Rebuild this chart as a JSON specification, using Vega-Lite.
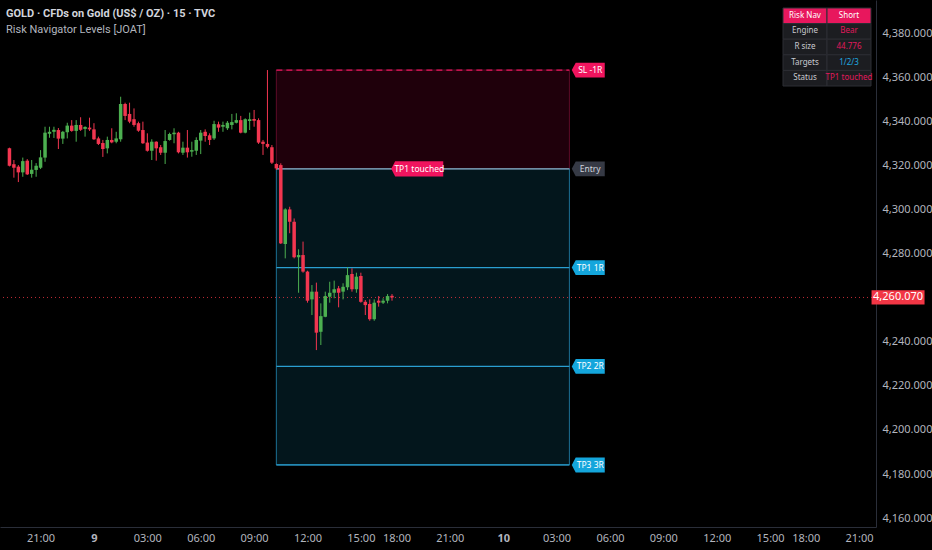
{
  "$schema": "https://vega.github.io/schema/vega-lite/v6.json",
  "width": 876,
  "height": 527,
  "autosize": {"type": "none"},
  "padding": {"left": 0, "top": 0, "right": 56, "bottom": 23},
  "background": "#000000",
  "config": {"view": {"stroke": null}, "font": "Noto Sans"},
  "title": {
    "text": "GOLD · CFDs on Gold (US$ / OZ) · 15 · TVC",
    "subtitle": "Risk Navigator Levels [JOAT]",
    "anchor": "start",
    "frame": "group",
    "dx": 6,
    "dy": 39,
    "font": "Roboto",
    "subtitleFont": "Roboto",
    "fontSize": 11,
    "fontWeight": "bold",
    "color": "#d1d4dc",
    "subtitleColor": "#b2b5be",
    "subtitleFontSize": 11,
    "subtitlePadding": 5
  },
  "datasets": {
    "candles": [
      {"t": -1.75, "o": 4327.7, "h": 4328.0, "l": 4319.5, "c": 4319.8},
      {"t": -1.5, "o": 4320.5, "h": 4322.4, "l": 4314.4, "c": 4318.9},
      {"t": -1.25, "o": 4319.4, "h": 4320.1, "l": 4312.4, "c": 4316.8},
      {"t": -1.0, "o": 4316.8, "h": 4323.5, "l": 4314.8, "c": 4321.9},
      {"t": -0.75, "o": 4322.1, "h": 4322.8, "l": 4315.6, "c": 4315.9},
      {"t": -0.5, "o": 4316.1, "h": 4322.4, "l": 4314.4, "c": 4318.0},
      {"t": -0.25, "o": 4317.9, "h": 4321.0, "l": 4314.8, "c": 4319.8},
      {"t": 0.0, "o": 4318.9, "h": 4326.9, "l": 4318.3, "c": 4323.6},
      {"t": 0.25, "o": 4323.5, "h": 4337.5, "l": 4321.6, "c": 4334.8},
      {"t": 0.5, "o": 4334.3, "h": 4337.5, "l": 4332.5, "c": 4335.2},
      {"t": 0.75, "o": 4335.2, "h": 4337.5, "l": 4332.4, "c": 4336.1},
      {"t": 1.0, "o": 4336.0, "h": 4336.9, "l": 4327.4, "c": 4332.1},
      {"t": 1.25, "o": 4332.1, "h": 4335.6, "l": 4329.7, "c": 4335.2},
      {"t": 1.5, "o": 4335.0, "h": 4339.3, "l": 4332.2, "c": 4338.0},
      {"t": 1.75, "o": 4338.0, "h": 4340.5, "l": 4335.2, "c": 4335.6},
      {"t": 2.0, "o": 4335.6, "h": 4340.5, "l": 4330.7, "c": 4338.3},
      {"t": 2.25, "o": 4338.3, "h": 4341.8, "l": 4335.6, "c": 4336.1},
      {"t": 2.5, "o": 4336.5, "h": 4337.7, "l": 4333.0, "c": 4337.4},
      {"t": 2.75, "o": 4337.1, "h": 4341.6, "l": 4335.6, "c": 4336.3},
      {"t": 3.0, "o": 4336.3, "h": 4339.1, "l": 4331.5, "c": 4331.8},
      {"t": 3.25, "o": 4332.2, "h": 4333.0, "l": 4329.2, "c": 4329.7},
      {"t": 3.5, "o": 4330.1, "h": 4331.5, "l": 4323.8, "c": 4327.4},
      {"t": 3.75, "o": 4327.7, "h": 4333.0, "l": 4325.4, "c": 4331.5},
      {"t": 4.0, "o": 4331.5, "h": 4336.8, "l": 4330.0, "c": 4330.4},
      {"t": 4.25, "o": 4330.7, "h": 4335.2, "l": 4330.0, "c": 4332.2},
      {"t": 4.5, "o": 4331.8, "h": 4351.1, "l": 4330.7, "c": 4347.8},
      {"t": 4.75, "o": 4347.8, "h": 4348.4, "l": 4340.5, "c": 4342.4},
      {"t": 5.0, "o": 4343.3, "h": 4348.4, "l": 4339.1, "c": 4339.8},
      {"t": 5.25, "o": 4340.9, "h": 4345.8, "l": 4337.5, "c": 4338.3},
      {"t": 5.5, "o": 4339.1, "h": 4339.8, "l": 4335.2, "c": 4335.7},
      {"t": 5.75, "o": 4336.0, "h": 4339.8, "l": 4329.7, "c": 4330.0},
      {"t": 6.0, "o": 4330.3, "h": 4334.5, "l": 4326.2, "c": 4326.6},
      {"t": 6.25, "o": 4326.6, "h": 4331.8, "l": 4322.4, "c": 4330.7},
      {"t": 6.5, "o": 4330.7, "h": 4330.9, "l": 4322.1, "c": 4327.7},
      {"t": 6.75, "o": 4328.2, "h": 4329.2, "l": 4324.7, "c": 4325.7},
      {"t": 7.0, "o": 4325.7, "h": 4336.0, "l": 4320.6, "c": 4331.0},
      {"t": 7.25, "o": 4331.5, "h": 4334.8, "l": 4331.2, "c": 4334.2},
      {"t": 7.5, "o": 4334.1, "h": 4336.8, "l": 4330.0, "c": 4334.8},
      {"t": 7.75, "o": 4334.8, "h": 4335.2, "l": 4325.4, "c": 4325.9},
      {"t": 8.0, "o": 4325.7, "h": 4330.7, "l": 4324.7, "c": 4328.0},
      {"t": 8.25, "o": 4328.0, "h": 4336.0, "l": 4323.5, "c": 4325.9},
      {"t": 8.5, "o": 4326.2, "h": 4330.7, "l": 4323.9, "c": 4326.9},
      {"t": 8.75, "o": 4326.6, "h": 4332.7, "l": 4324.7, "c": 4331.5},
      {"t": 9.0, "o": 4331.2, "h": 4336.0, "l": 4325.1, "c": 4334.8},
      {"t": 9.25, "o": 4335.2, "h": 4336.3, "l": 4330.7, "c": 4333.3},
      {"t": 9.5, "o": 4333.6, "h": 4334.5, "l": 4329.2, "c": 4331.5},
      {"t": 9.75, "o": 4332.2, "h": 4340.2, "l": 4331.5, "c": 4338.7},
      {"t": 10.0, "o": 4338.6, "h": 4339.8, "l": 4335.2, "c": 4337.1},
      {"t": 10.25, "o": 4337.5, "h": 4339.8, "l": 4335.2, "c": 4338.3},
      {"t": 10.5, "o": 4336.8, "h": 4340.1, "l": 4336.0, "c": 4339.3},
      {"t": 10.75, "o": 4338.3, "h": 4343.3, "l": 4336.3, "c": 4339.6},
      {"t": 11.0, "o": 4339.3, "h": 4343.6, "l": 4339.0, "c": 4340.5},
      {"t": 11.25, "o": 4340.5, "h": 4342.4, "l": 4334.5, "c": 4334.8},
      {"t": 11.5, "o": 4334.8, "h": 4341.3, "l": 4334.5, "c": 4340.9},
      {"t": 11.75, "o": 4340.1, "h": 4343.9, "l": 4336.0, "c": 4340.9},
      {"t": 12.0, "o": 4341.0, "h": 4345.1, "l": 4337.5, "c": 4340.2},
      {"t": 12.25, "o": 4340.5, "h": 4341.3, "l": 4329.7, "c": 4330.3},
      {"t": 12.5, "o": 4330.7, "h": 4331.5, "l": 4324.7, "c": 4329.7},
      {"t": 12.75, "o": 4329.7, "h": 4363.2, "l": 4327.7, "c": 4328.4},
      {"t": 13.0, "o": 4328.2, "h": 4329.2, "l": 4320.6, "c": 4321.2},
      {"t": 13.25, "o": 4320.6, "h": 4320.9, "l": 4317.9, "c": 4318.6},
      {"t": 13.5, "o": 4320.1, "h": 4320.9, "l": 4284.3, "c": 4284.6},
      {"t": 13.75, "o": 4284.3, "h": 4300.5, "l": 4277.8, "c": 4300.0},
      {"t": 14.0, "o": 4300.0, "h": 4301.2, "l": 4289.2, "c": 4294.4},
      {"t": 14.25, "o": 4294.4, "h": 4295.9, "l": 4277.8, "c": 4278.3},
      {"t": 14.5, "o": 4278.3, "h": 4281.9, "l": 4262.2, "c": 4279.3},
      {"t": 14.75, "o": 4279.3, "h": 4285.4, "l": 4271.3, "c": 4271.8},
      {"t": 15.0, "o": 4271.8, "h": 4272.2, "l": 4257.7, "c": 4258.6},
      {"t": 15.25, "o": 4259.2, "h": 4265.7, "l": 4252.1, "c": 4262.7},
      {"t": 15.5, "o": 4262.7, "h": 4266.8, "l": 4236.2, "c": 4244.1},
      {"t": 15.75, "o": 4244.5, "h": 4257.4, "l": 4238.5, "c": 4251.6},
      {"t": 16.0, "o": 4251.3, "h": 4262.7, "l": 4251.1, "c": 4260.7},
      {"t": 16.25, "o": 4260.4, "h": 4267.2, "l": 4257.7, "c": 4262.2},
      {"t": 16.5, "o": 4262.2, "h": 4267.7, "l": 4259.7, "c": 4263.8},
      {"t": 16.75, "o": 4264.2, "h": 4265.3, "l": 4255.6, "c": 4262.2},
      {"t": 17.0, "o": 4262.7, "h": 4266.5, "l": 4259.2, "c": 4264.9},
      {"t": 17.25, "o": 4264.7, "h": 4273.7, "l": 4263.4, "c": 4270.2},
      {"t": 17.5, "o": 4270.7, "h": 4273.3, "l": 4262.7, "c": 4263.8},
      {"t": 17.75, "o": 4263.8, "h": 4271.3, "l": 4262.2, "c": 4269.5},
      {"t": 18.0, "o": 4269.8, "h": 4271.3, "l": 4257.7, "c": 4258.1},
      {"t": 18.25, "o": 4258.1, "h": 4258.9, "l": 4252.1, "c": 4256.6},
      {"t": 18.5, "o": 4257.1, "h": 4259.2, "l": 4249.5, "c": 4250.2},
      {"t": 18.75, "o": 4250.2, "h": 4259.2, "l": 4249.5, "c": 4257.7},
      {"t": 19.0, "o": 4258.6, "h": 4260.7, "l": 4255.9, "c": 4257.7},
      {"t": 19.25, "o": 4257.7, "h": 4259.7, "l": 4257.1, "c": 4258.6},
      {"t": 19.5, "o": 4258.6, "h": 4261.6, "l": 4257.4, "c": 4260.7},
      {"t": 19.75, "o": 4260.8, "h": 4261.6, "l": 4258.6, "c": 4260.07}
    ],
    "boxes": [
      {"zone": "risk", "top": 4363.2, "bottom": 4318.4, "from": 13.25, "to": 29.72},
      {"zone": "reward", "top": 4318.4, "bottom": 4184.1, "from": 13.25, "to": 29.72}
    ],
    "levels": [
      {"kind": "sl", "label": "SL -1R", "price": 4363.2, "from": 13.25, "to": 29.72},
      {"kind": "entry", "label": "Entry", "price": 4318.4, "from": 13.25, "to": 29.72},
      {"kind": "tp", "label": "TP1 1R", "price": 4273.6, "from": 13.25, "to": 29.72},
      {"kind": "tp", "label": "TP2 2R", "price": 4228.8, "from": 13.25, "to": 29.72},
      {"kind": "tp", "label": "TP3 3R", "price": 4184.1, "from": 13.25, "to": 29.72}
    ],
    "status": [{"note": "TP1 touched", "price": 4318.4}],
    "last": [{"price": 4260.07, "label": "4,260.070"}],
    "table": [
      {"row": "Risk Nav", "col": "k", "text": "Risk Nav", "role": "head"},
      {"row": "Risk Nav", "col": "v", "text": "Short", "role": "head"},
      {"row": "Engine", "col": "k", "text": "Engine", "role": "key"},
      {"row": "Engine", "col": "v", "text": "Bear", "role": "bear"},
      {"row": "R size", "col": "k", "text": "R size", "role": "key"},
      {"row": "R size", "col": "v", "text": "44.776", "role": "bear"},
      {"row": "Targets", "col": "k", "text": "Targets", "role": "key"},
      {"row": "Targets", "col": "v", "text": "1/2/3", "role": "bull"},
      {"row": "Status", "col": "k", "text": "Status", "role": "key"},
      {"row": "Status", "col": "v", "text": "TP1 touched", "role": "bear"}
    ]
  },
  "resolve": {"scale": {"x": "independent", "y": "independent"}},
  "layer": [
    {
      "layer": [
        {
          "data": {"name": "boxes"},
          "mark": {"type": "rect", "strokeWidth": 1},
          "encoding": {
            "x": {
              "field": "from", "type": "quantitative",
              "scale": {"domain": [-2, 46.67], "nice": false, "zero": false},
              "axis": {
                "orient": "bottom",
                "title": null,
                "grid": false,
                "ticks": false,
                "domainColor": "#2a2e39",
                "labelColor": "#b2b5be",
                "labelFontSize": 11,
                "labelPadding": 5,
                "labelFlush": false,
                "labelOverlap": false,
                "values": [0, 3, 6, 9, 12, 15, 18, 20, 23, 26, 29, 32, 35, 38, 41, 43, 46],
                "labelExpr": "['21:00','9','03:00','06:00','09:00','12:00','15:00','18:00','21:00','10','03:00','06:00','09:00','12:00','15:00','18:00','21:00'][indexof([0,3,6,9,12,15,18,20,23,26,29,32,35,38,41,43,46], datum.value)]",
                "labelFontWeight": {"condition": {"test": "datum.value == 3 || datum.value == 26", "value": "bold"}, "value": "normal"}
              }
            },
            "x2": {"field": "to"},
            "y": {
              "field": "top", "type": "quantitative",
              "scale": {"domain": [4155.97, 4394.97], "nice": false, "zero": false},
              "axis": {
                "orient": "right",
                "title": null,
                "grid": false,
                "ticks": false,
                "domainColor": "#2a2e39",
                "labelColor": "#b2b5be",
                "labelFontSize": 11,
                "labelPadding": 6,
                "labelFlush": false,
                "format": ",.3f",
                "values": [4160, 4180, 4200, 4220, 4240, 4280, 4300, 4320, 4340, 4360, 4380]
              }
            },
            "y2": {"field": "bottom"},
            "fill": {"condition": {"test": "datum.zone == 'risk'", "value": "#1f000b"}, "value": "#03161c"},
            "stroke": {"condition": {"test": "datum.zone == 'risk'", "value": "#5c0b28"}, "value": "#1c7094"}
          }
        },
        {
          "data": {"name": "levels"},
          "mark": {"type": "rule", "strokeWidth": 1.2},
          "encoding": {
            "x": {"field": "from", "type": "quantitative"},
            "x2": {"field": "to"},
            "y": {"field": "price", "type": "quantitative"},
            "color": {
              "condition": [
                {"test": "datum.kind == 'sl'", "value": "#e8175d"},
                {"test": "datum.kind == 'entry'", "value": "#8ea3b8"}
              ],
              "value": "#2a9fd0"
            },
            "strokeDash": {"condition": {"test": "datum.kind == 'sl'", "value": [6, 4]}, "value": [1, 0]}
          }
        },
        {
          "data": {"name": "last"},
          "mark": {"type": "rule", "color": "#f23645", "strokeDash": [1, 3], "strokeWidth": 1, "opacity": 0.8},
          "encoding": {"y": {"field": "price", "type": "quantitative"}}
        },
        {
          "data": {"name": "candles"},
          "mark": {"type": "rule", "strokeWidth": 1},
          "encoding": {
            "x": {"field": "t", "type": "quantitative"},
            "y": {"field": "l", "type": "quantitative"},
            "y2": {"field": "h"},
            "color": {"condition": {"test": "datum.c >= datum.o", "value": "#4caf50"}, "value": "#f23650"}
          }
        },
        {
          "data": {"name": "candles"},
          "mark": {"type": "bar", "width": 3.5},
          "encoding": {
            "x": {"field": "t", "type": "quantitative"},
            "y": {"field": "o", "type": "quantitative"},
            "y2": {"field": "c"},
            "color": {"condition": {"test": "datum.c >= datum.o", "value": "#4caf50"}, "value": "#f23650"}
          }
        },
        {
          "data": {"name": "levels"},
          "mark": {"type": "point", "shape": "M-1,0L-0.76,-0.45L1,-0.45L1,0.45L-0.76,0.45Z", "filled": true, "size": 1089, "opacity": 1, "strokeWidth": 0},
          "encoding": {
            "x": {"datum": 30.78, "type": "quantitative"},
            "y": {"field": "price", "type": "quantitative"},
            "color": {
              "condition": [
                {"test": "datum.kind == 'sl'", "value": "#f0145e"},
                {"test": "datum.kind == 'entry'", "value": "#363a45"}
              ],
              "value": "#14a6dc"
            }
          }
        },
        {
          "data": {"name": "levels"},
          "mark": {"type": "text", "fontSize": 8.5, "dx": 2, "baseline": "middle"},
          "encoding": {
            "x": {"datum": 30.78, "type": "quantitative"},
            "y": {"field": "price", "type": "quantitative"},
            "text": {"field": "label"},
            "color": {"condition": {"test": "datum.kind == 'entry'", "value": "#d1d4dc"}, "value": "#ffffff"}
          }
        },
        {
          "data": {"name": "status"},
          "mark": {"type": "point", "shape": "M-1,0L-0.85,-0.29L1,-0.29L1,0.29L-0.85,0.29Z", "filled": true, "size": 2704, "opacity": 1, "strokeWidth": 0, "color": "#f0145e"},
          "encoding": {
            "x": {"datum": 21.17, "type": "quantitative"},
            "y": {"field": "price", "type": "quantitative"}
          }
        },
        {
          "data": {"name": "status"},
          "mark": {"type": "text", "fontSize": 8.5, "dx": 2, "baseline": "middle", "color": "#ffffff"},
          "encoding": {
            "x": {"datum": 21.17, "type": "quantitative"},
            "y": {"field": "price", "type": "quantitative"},
            "text": {"field": "note"}
          }
        },
        {
          "data": {"name": "last"},
          "mark": {"type": "point", "shape": "M-1,-0.27L1,-0.27L1,0.27L-1,0.27Z", "filled": true, "size": 2809, "opacity": 1, "strokeWidth": 0, "color": "#f23645"},
          "encoding": {
            "x": {"datum": 48.19, "type": "quantitative"},
            "y": {"field": "price", "type": "quantitative"}
          }
        },
        {
          "data": {"name": "last"},
          "mark": {"type": "text", "fontSize": 11, "baseline": "middle", "color": "#ffffff"},
          "encoding": {
            "x": {"datum": 48.19, "type": "quantitative"},
            "y": {"field": "price", "type": "quantitative"},
            "text": {"field": "label"}
          }
        }
      ]
    },
    {
      "data": {"name": "table"},
      "encoding": {
        "x": {"field": "col", "type": "nominal", "scale": {"domain": ["k", "v"], "range": [783, 871], "paddingInner": 0, "paddingOuter": 0}, "axis": null},
        "y": {"field": "row", "type": "nominal", "sort": null, "scale": {"domain": ["Risk Nav", "Engine", "R size", "Targets", "Status"], "range": [8, 86], "paddingInner": 0, "paddingOuter": 0}, "axis": null}
      },
      "layer": [
        {
          "mark": {"type": "rect", "stroke": "#2d2e34", "strokeWidth": 1},
          "encoding": {
            "fill": {"condition": {"test": "datum.role == 'head'", "value": "#e8175d"}, "value": "#1c1d21"}
          }
        },
        {
          "mark": {"type": "text", "fontSize": 8, "baseline": "middle", "align": "center"},
          "encoding": {
            "text": {"field": "text"},
            "color": {
              "condition": [
                {"test": "datum.role == 'head'", "value": "#ffffff"},
                {"test": "datum.role == 'key'", "value": "#c8cad0"},
                {"test": "datum.role == 'bull'", "value": "#1fa8e0"}
              ],
              "value": "#e0195c"
            }
          }
        }
      ]
    }
  ]
}
